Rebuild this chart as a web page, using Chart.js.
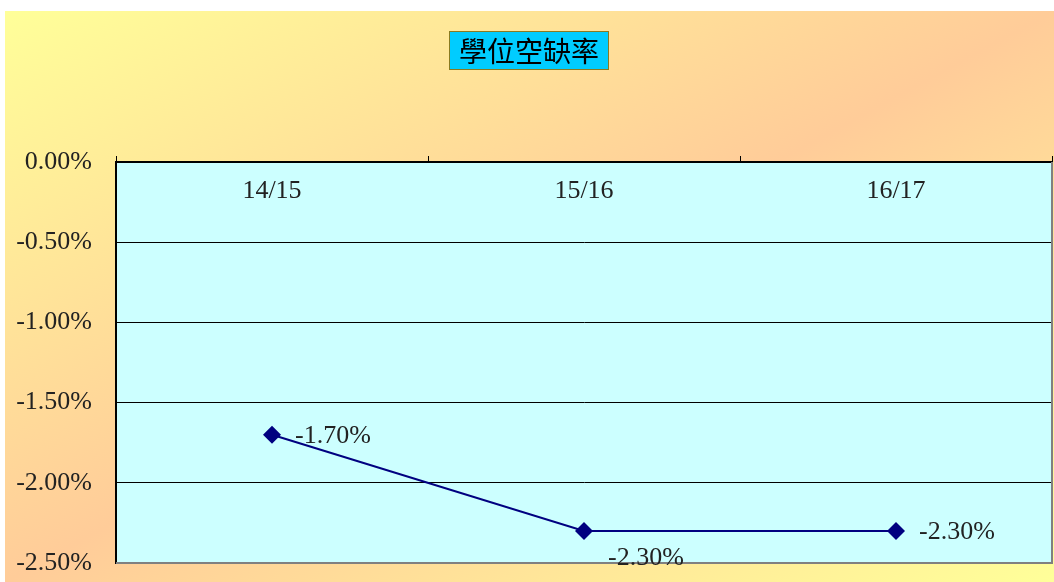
<!DOCTYPE html>
<html>
<head>
<meta charset="utf-8">
<script src="https://cdn.jsdelivr.net/npm/chart.js@4/dist/chart.umd.min.js"></script>
<style>
  body { margin: 0; background: #fff; }
  #wrap { position: relative; width: 1054px; height: 582px; }
  #bg {
    position: absolute; left: 5px; top: 11px; width: 1049px; height: 571px;
    background: linear-gradient(to bottom right, #FFFF99, #FFCC99 50%, #FFFF99);
  }
  #myChart { position: absolute; left: 0; top: 0; }
</style>
</head>
<body>
<div id="wrap">
  <div id="bg"></div>
  <canvas id="myChart" width="1054" height="582"></canvas>
</div>
<script>
const chartTitle = '學位空缺率';
const years = ['14/15', '15/16', '16/17'];
const vacancyRate = [-1.7, -2.3, -2.3];

const serif = '"Liberation Serif", "DejaVu Serif", serif';

// plot background, borders, title box, x labels and point labels
const decor = {
    id: 'decor',
    beforeDraw(chart) {
        const { ctx, chartArea: a } = chart;
        ctx.save();
        ctx.fillStyle = '#CCFFFF';
        ctx.fillRect(a.left, a.top, a.right - a.left, a.bottom - a.top);
        ctx.restore();
    },
    afterDraw(chart) {
        const { ctx, chartArea: a } = chart;
        ctx.save();
        // right and bottom frame
        ctx.strokeStyle = '#808080';
        ctx.lineWidth = 2;
        ctx.beginPath();
        ctx.moveTo(a.left, a.bottom);
        ctx.lineTo(a.right, a.bottom);
        ctx.lineTo(a.right, a.top);
        ctx.stroke();

        // title box
        ctx.fillStyle = '#00CCFF';
        ctx.fillRect(449, 31, 160, 39);
        ctx.strokeStyle = '#8A7A20';
        ctx.lineWidth = 1;
        ctx.strokeRect(449.5, 31.5, 159, 38);
        ctx.fillStyle = '#000';
        ctx.font = '28px "Noto Sans CJK TC", "Noto Sans CJK SC", sans-serif';
        ctx.textAlign = 'center';
        ctx.textBaseline = 'middle';
        ctx.fillText(chartTitle, 529, 51);

        // category labels under the top axis
        const x = chart.scales.x;
        ctx.font = '26px ' + serif;
        ctx.fillStyle = '#222';
        years.forEach((y, i) => {
            ctx.fillText(y, x.getPixelForValue(i), a.top + 29);
        });

        // value labels
        const meta = chart.getDatasetMeta(0);
        ctx.textAlign = 'left';
        meta.data.forEach((pt, i) => {
            const txt = vacancyRate[i].toFixed(2) + '%';
            let dx = 23, dy = 1;
            if (i === 1) { dx = 24; dy = 27; }
            ctx.fillText(txt, pt.x + dx, pt.y + dy);
        });
        ctx.restore();
    }
};

const config = {
    type: 'line',
    data: {
        labels: years,
        datasets: [{
            data: vacancyRate,
            borderColor: '#000080',
            backgroundColor: '#000080',
            borderWidth: 2,
            pointStyle: 'rectRot',
            pointRadius: 9,
            pointBorderWidth: 0,
            tension: 0
        }]
    },
    options: {
        responsive: false,
        animation: false,
        layout: {
            autoPadding: false,
            padding: { top: 156, right: 2, bottom: 19, left: 0 }
        },
        scales: {
            x: {
                position: 'top',
                offset: true,
                afterFit: s => {
                    s.height = 6;
                    s.paddingLeft = 0;
                    s.paddingRight = 0;
                },
                grid: {
                    offset: true,
                    drawOnChartArea: false,
                    drawTicks: true,
                    tickLength: 6,
                    color: '#000'
                },
                border: { display: true, color: '#000', width: 2 },
                ticks: { display: false }
            },
            y: {
                min: -2.5,
                max: 0,
                afterFit: s => {
                    s.width = 116;
                    s.paddingTop = 0;
                    s.paddingBottom = 0;
                },
                grid: { color: '#000', lineWidth: 1, drawTicks: false },
                border: { display: true, color: '#000', width: 2 },
                ticks: {
                    stepSize: 0.5,
                    padding: 24,
                    color: '#222',
                    font: { family: serif, size: 26 },
                    callback: v => v.toFixed(2) + '%'
                }
            }
        },
        plugins: {
            legend: { display: false },
            tooltip: { enabled: false }
        }
    },
    plugins: [decor]
};

new Chart(document.getElementById('myChart').getContext('2d'), config);
</script>
</body>
</html>
